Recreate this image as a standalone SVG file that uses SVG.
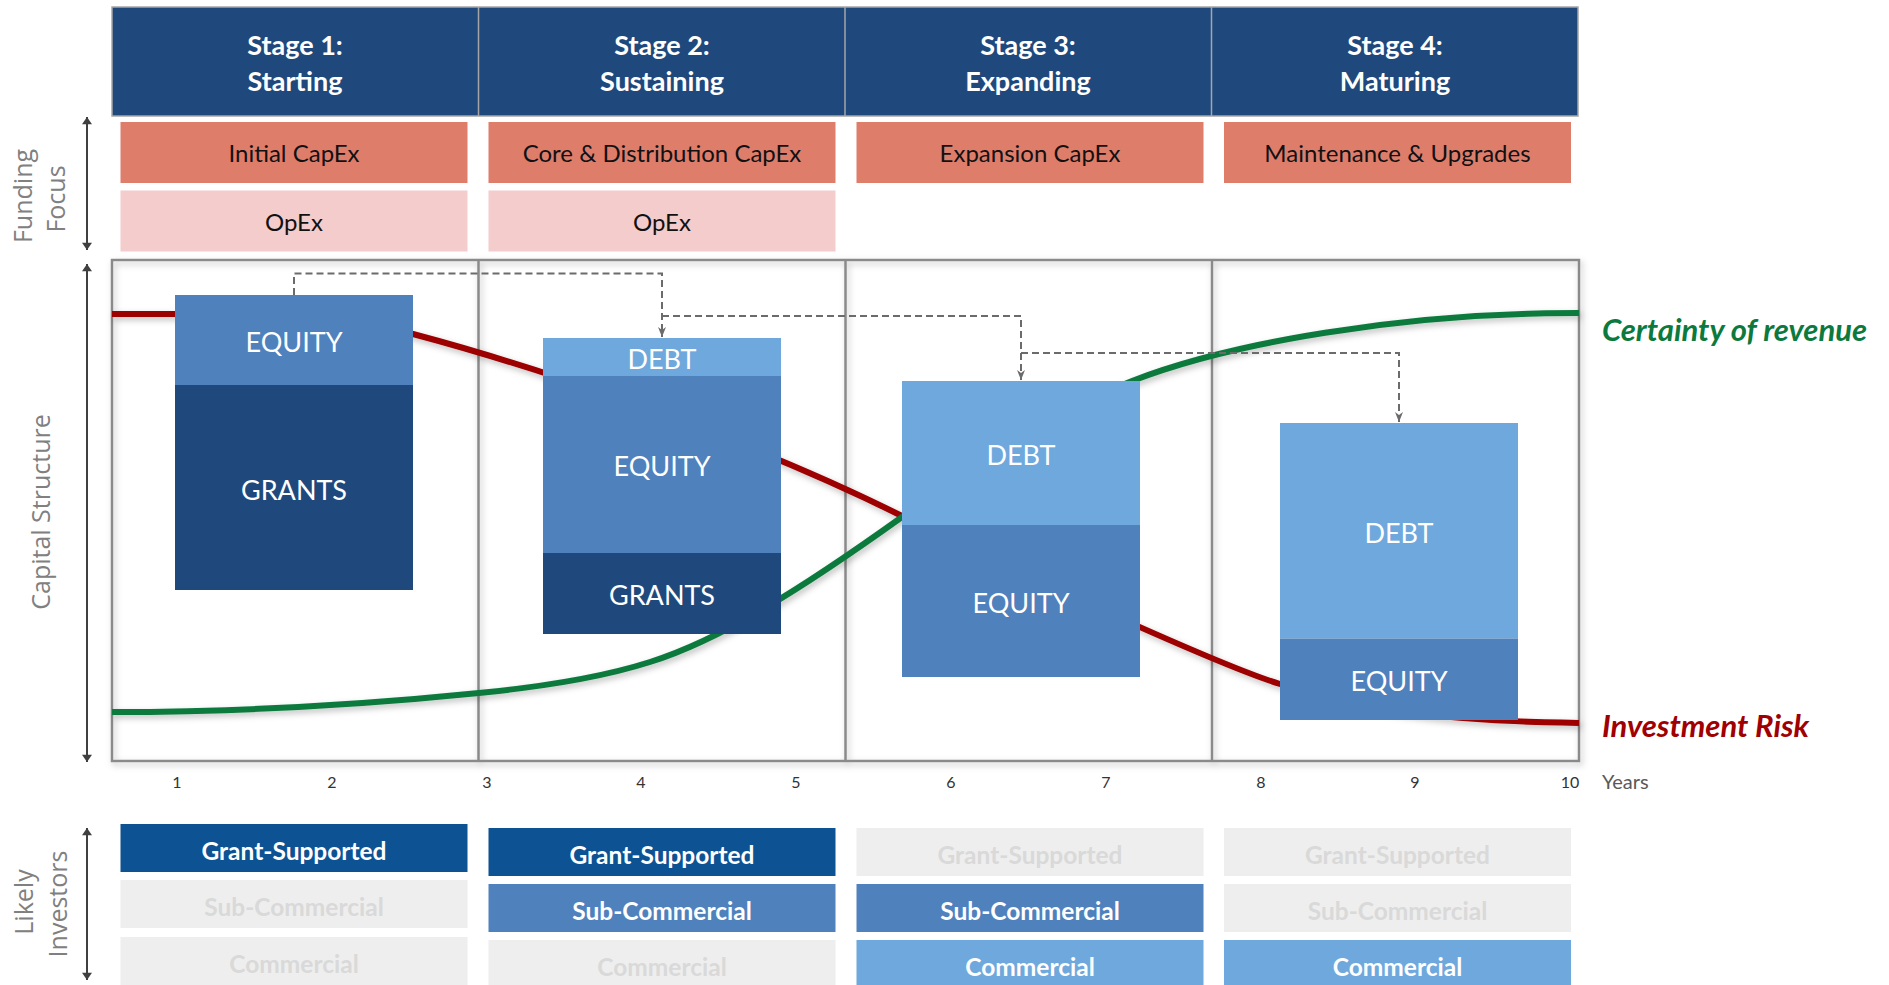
<svg xmlns="http://www.w3.org/2000/svg" width="1889" height="985" viewBox="0 0 1889 985">
<defs>
<style>
.hdr{fill:#1F497D}
.hdiv{stroke:#A6A6A6;stroke-width:1.5}
.ht{font-family:Lato,'Liberation Sans',sans-serif;font-weight:700;font-size:27px;fill:#fff;text-anchor:middle}
.capex{fill:#DF7D6B}
.opex{fill:#F4CCCC}
.ft{font-family:Lato,'Liberation Sans',sans-serif;font-size:24px;fill:#111;text-anchor:middle}
.side{font-family:'Open Sans','DejaVu Sans',sans-serif;font-size:25px;fill:#808080;text-anchor:middle}
.frame{fill:none;stroke:#8A8A8A;stroke-width:2.5}
.grants{fill:#1F497D}
.equity{fill:#4F81BD}
.debt{fill:#6FA8DC}
.bt{font-family:Lato,'Liberation Sans',sans-serif;font-size:27px;fill:#fff;text-anchor:middle}
.dash{fill:none;stroke:#6B6B6B;stroke-width:2;stroke-dasharray:7 4}
.axis{font-family:Lato,'Liberation Sans',sans-serif;font-size:16px;fill:#333;text-anchor:middle}
.gs{fill:#0D5293}.sc{fill:#4F81BD}.cm{fill:#6FA8DC}.off{fill:#EEEEEE}
.it{font-family:Lato,'Liberation Sans',sans-serif;font-weight:700;font-size:24.5px;fill:#fff;text-anchor:middle}
.it.dim{fill:#D9D9D9}
.varr{stroke:#404040;stroke-width:2;fill:none}
.curve{fill:none;stroke-width:6;stroke-linejoin:round;stroke-linecap:butt}
.lbl{font-family:Lato,'Liberation Sans',sans-serif;font-weight:700;font-style:italic;font-size:31px}
</style>
<marker id="tri" viewBox="0 0 10 14" refX="10" refY="7" markerWidth="14" markerHeight="10" markerUnits="userSpaceOnUse" orient="auto-start-reverse">
<path d="M0,0 L10,7 L0,14 Z" fill="#404040"/>
</marker>
<marker id="stealth" viewBox="0 0 10 8" refX="10" refY="4" markerWidth="10" markerHeight="8" markerUnits="userSpaceOnUse" orient="auto">
<path d="M0,0 L10,4 L0,8 L3,4 Z" fill="#6B6B6B"/>
</marker>
<filter id="sh" x="-5%" y="-5%" width="110%" height="110%">
<feDropShadow dx="2" dy="3" stdDeviation="3" flood-color="#000" flood-opacity="0.25"/>
</filter>
</defs>

<rect width="1889" height="985" fill="#fff"/>

<g id="header">
<rect class="hdr" x="112" y="7" width="1466" height="109" stroke="#A6A6A6" stroke-width="1.5"/>
<line class="hdiv" x1="478.5" y1="7" x2="478.5" y2="116"/>
<line class="hdiv" x1="845" y1="7" x2="845" y2="116"/>
<line class="hdiv" x1="1211.5" y1="7" x2="1211.5" y2="116"/>
</g>
<g id="stage1-header"><text class="ht" x="295" y="55">Stage 1:</text><text class="ht" x="295" y="91">Starting</text></g>
<g id="stage2-header"><text class="ht" x="662" y="55">Stage 2:</text><text class="ht" x="662" y="91">Sustaining</text></g>
<g id="stage3-header"><text class="ht" x="1028" y="55">Stage 3:</text><text class="ht" x="1028" y="91">Expanding</text></g>
<g id="stage4-header"><text class="ht" x="1395" y="55">Stage 4:</text><text class="ht" x="1395" y="91">Maturing</text></g>

<g id="funding-focus-label">
<text class="side" transform="translate(32,196) rotate(-90)">Funding</text>
<text class="side" transform="translate(65,199) rotate(-90)">Focus</text>
<line class="varr" x1="87" y1="117" x2="87" y2="250" marker-start="url(#tri)" marker-end="url(#tri)"/>
</g>
<g id="capex-1"><rect class="capex" x="120.5" y="122" width="347" height="61"/><text class="ft" x="294" y="162">Initial CapEx</text></g>
<g id="capex-2"><rect class="capex" x="488.5" y="122" width="347" height="61"/><text class="ft" x="662" y="162">Core &amp; Distribution CapEx</text></g>
<g id="capex-3"><rect class="capex" x="856.5" y="122" width="347" height="61"/><text class="ft" x="1030" y="162">Expansion CapEx</text></g>
<g id="capex-4"><rect class="capex" x="1224" y="122" width="347" height="61"/><text class="ft" x="1397.5" y="162">Maintenance &amp; Upgrades</text></g>
<g id="opex-1"><rect class="opex" x="120.5" y="190.5" width="347" height="61"/><text class="ft" x="294" y="231">OpEx</text></g>
<g id="opex-2"><rect class="opex" x="488.5" y="190.5" width="347" height="61"/><text class="ft" x="662" y="231">OpEx</text></g>

<g id="capital-structure-label">
<text class="side" transform="translate(50,512) rotate(-90)">Capital Structure</text>
<line class="varr" x1="87" y1="264" x2="87" y2="762" marker-start="url(#tri)" marker-end="url(#tri)"/>
</g>

<g id="chart-frame" filter="url(#sh)">
<rect class="frame" x="112" y="260" width="1467" height="501" fill="#fff"/>
<line class="frame" x1="478.5" y1="260" x2="478.5" y2="761"/>
<line class="frame" x1="845.5" y1="260" x2="845.5" y2="761"/>
<line class="frame" x1="1212" y1="260" x2="1212" y2="761"/>
</g>

<g id="curves" filter="url(#sh)">
<path id="investment-risk-line" class="curve" stroke="#9C0000" d="M112,314 L190,314 C300,314 360,320 413,334 C560,373 760,445 902,516 C1000,565 1220,666 1280,684 C1350,705 1420,721 1579,723"/>
<path id="certainty-line" class="curve" stroke="#0C7A3E" d="M112,712 C260,712 380,703 479,693 C540,687 600,678 650,662 C720,640 800,590 902,517 C980,461 1070,405 1132,381 C1230,343 1400,313 1579,313"/>
</g>

<g id="bar-stage1">
<rect class="equity" x="175" y="295" width="238" height="90"/>
<rect class="grants" x="175" y="385" width="238" height="205"/>
<text class="bt" x="294" y="352">EQUITY</text>
<text class="bt" x="294" y="500">GRANTS</text>
</g>
<g id="bar-stage2">
<rect class="debt" x="543" y="338" width="238" height="38"/>
<rect class="equity" x="543" y="376" width="238" height="177"/>
<rect class="grants" x="543" y="553" width="238" height="81"/>
<text class="bt" x="662" y="369">DEBT</text>
<text class="bt" x="662" y="476">EQUITY</text>
<text class="bt" x="662" y="605">GRANTS</text>
</g>
<g id="bar-stage3">
<rect class="debt" x="902" y="381" width="238" height="144"/>
<rect class="equity" x="902" y="525" width="238" height="152"/>
<text class="bt" x="1021" y="465">DEBT</text>
<text class="bt" x="1021" y="613">EQUITY</text>
</g>
<g id="bar-stage4">
<rect class="debt" x="1280" y="423" width="238" height="215.5"/>
<rect class="equity" x="1280" y="638.5" width="238" height="81.5"/>
<text class="bt" x="1399" y="543">DEBT</text>
<text class="bt" x="1399" y="691">EQUITY</text>
</g>

<g id="connectors">
<path class="dash" d="M294,295 V273.5 H662 V337" marker-end="url(#stealth)"/>
<path class="dash" d="M662,316 H1021 V380" marker-end="url(#stealth)"/>
<path class="dash" d="M1021,353 H1399 V422" marker-end="url(#stealth)"/>
</g>

<g id="curve-labels">
<text class="lbl" x="1602" y="341" fill="#0C7A3E">Certainty of revenue</text>
<text class="lbl" x="1602" y="737" fill="#A00000">Investment Risk</text>
</g>

<g id="axis">
<text class="axis" x="177" y="788">1</text>
<text class="axis" x="332" y="788">2</text>
<text class="axis" x="487" y="788">3</text>
<text class="axis" x="641" y="788">4</text>
<text class="axis" x="796" y="788">5</text>
<text class="axis" x="951" y="788">6</text>
<text class="axis" x="1106" y="788">7</text>
<text class="axis" x="1261" y="788">8</text>
<text class="axis" x="1415" y="788">9</text>
<text class="axis" x="1570" y="788">10</text>
<text x="1602" y="789" font-family="Lato,'Liberation Sans',sans-serif" font-size="20" fill="#595959">Years</text>
</g>

<g id="likely-investors-label">
<text class="side" transform="translate(33,902) rotate(-90)">Likely</text>
<text class="side" transform="translate(67,904) rotate(-90)">Investors</text>
<line class="varr" x1="87" y1="828" x2="87" y2="980" marker-start="url(#tri)" marker-end="url(#tri)"/>
</g>

<g id="investors-1">
<rect class="gs" x="120.5" y="824" width="347" height="48"/><text class="it" x="294" y="860">Grant-Supported</text>
<rect class="off" x="120.5" y="880" width="347" height="48"/><text class="it dim" x="294" y="916">Sub-Commercial</text>
<rect class="off" x="120.5" y="937" width="347" height="53"/><text class="it dim" x="294" y="973">Commercial</text>
</g>
<g id="investors-2">
<rect class="gs" x="488.5" y="828" width="347" height="48"/><text class="it" x="662" y="864">Grant-Supported</text>
<rect class="sc" x="488.5" y="884" width="347" height="48"/><text class="it" x="662" y="920">Sub-Commercial</text>
<rect class="off" x="488.5" y="940" width="347" height="50"/><text class="it dim" x="662" y="976">Commercial</text>
</g>
<g id="investors-3">
<rect class="off" x="856.5" y="828" width="347" height="48"/><text class="it dim" x="1030" y="864">Grant-Supported</text>
<rect class="sc" x="856.5" y="884" width="347" height="48"/><text class="it" x="1030" y="920">Sub-Commercial</text>
<rect class="cm" x="856.5" y="940" width="347" height="50"/><text class="it" x="1030" y="976">Commercial</text>
</g>
<g id="investors-4">
<rect class="off" x="1224" y="828" width="347" height="48"/><text class="it dim" x="1397.5" y="864">Grant-Supported</text>
<rect class="off" x="1224" y="884" width="347" height="48"/><text class="it dim" x="1397.5" y="920">Sub-Commercial</text>
<rect class="cm" x="1224" y="940" width="347" height="50"/><text class="it" x="1397.5" y="976">Commercial</text>
</g>
</svg>
